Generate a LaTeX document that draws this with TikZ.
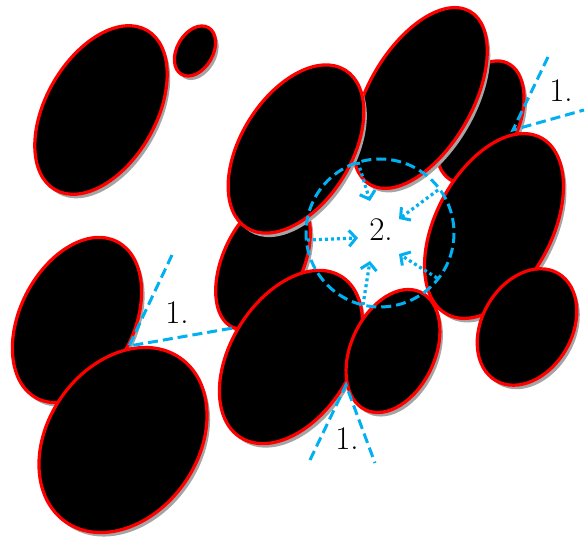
\documentclass[tikz,border=0pt]{standalone}
\usepackage{xcolor}
\usetikzlibrary{arrows.meta}
\definecolor{myblue}{RGB}{0,176,240}
\definecolor{myred}{RGB}{255,0,0}
\definecolor{mygray}{RGB}{165,165,165}

\tikzset{
  grain/.style={fill=black, draw=myred, line width=1.6pt},
  grainshadow/.style={fill=mygray, xshift=1.5pt, yshift=-2pt},
  cut/.style={color=myblue, line width=1.5pt, dash pattern=on 5pt off 2.5pt},
  flow/.style={color=myblue, line width=1.6pt, dash pattern=on 1.5pt off 1.5pt,
    -{Straight Barb[length=3.5pt, width=8pt, line width=1.5pt]}},
  tag/.style={inner sep=0pt, font=\fontsize{16.5}{20}\selectfont}
}

\begin{document}
\begin{tikzpicture}[x=0.5pt, y=-0.5pt]
\useasboundingbox (0,0) rectangle (585,545);

% grains, back to front: x/y/major/minor/tilt
\foreach \cx/\cy/\ra/\rb/\ang in {
  101/110/92/55/60, 195/51/27/18/60,
  77/320/88/57/63, 123/440/100/75/55,
  480/122/65/38/65, 420/98/100/52/60,
  263/262/72/40/65, 296/149/93/55/58,
  494/226/100/58/62, 527/327/62/45/60,
  291/357/95/60/58, 393/351/65/42/65}{
\fill[grainshadow, shift={(\cx,\cy)}, rotate=\ang] (0,0) ellipse [x radius=\ra, y radius=\rb];
\draw[grain, shift={(\cx,\cy)}, rotate=\ang] (0,0) ellipse [x radius=\ra, y radius=\rb];
}

% 1. contacts
\coordinate (jl) at (129,346);
\coordinate (jlA) at (172,255);
\coordinate (jlB) at (233,328);
\coordinate (jt) at (513,130);
\coordinate (jtA) at (548,57);
\coordinate (jtB) at (584,110);
\coordinate (jb) at (346,385);
\coordinate (jbA) at (310,460);
\coordinate (jbB) at (375,463);
\draw[cut] (jlA) -- (jl) -- (jlB);
\draw[cut] (jtA) -- (jt) -- (jtB);
\draw[cut] (jbA) -- (jb) -- (jbB);
\node[tag] (oneL) at (177,313) {1.};
\node[tag] (oneT) at (561,91) {1.};
\node[tag] (oneB) at (347,439) {1.};

% 2. pore
\coordinate (pc) at (380,233);
\draw[cut] (pc) circle (74);
\node[tag] (two) at (381,230) {2.};
\foreach \sx/\sy/\ex/\ey in {358/162/370/201, 438/190/399/219,
  307/240/358/238, 363/305/370/261, 437/278/399/254}{
\coordinate (s) at (\sx,\sy);
\coordinate (e) at (\ex,\ey);
\draw[flow] (s) -- (e);
}

\end{tikzpicture}
\end{document}
